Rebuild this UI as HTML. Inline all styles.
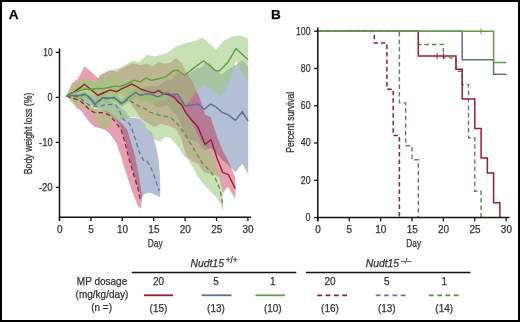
<!DOCTYPE html>
<html><head><meta charset="utf-8"><style>
html,body{margin:0;padding:0;background:#fff;}
body{width:520px;height:322px;overflow:hidden;}
svg{display:block;font-family:"Liberation Sans",sans-serif;will-change:transform;}
text{stroke:#3a3a3a;stroke-width:0.25px;paint-order:stroke;}
</style></head><body>
<svg width="520" height="322" viewBox="0 0 520 322">
<rect x="0" y="0" width="520" height="322" fill="#fff"/>
<polygon points="66.3,96.0 72.0,94.3 80.0,92.5 80.6,92.5 84.4,90.7 89.0,93.8 95.0,100.7 102.7,94.0 109.4,94.6 114.2,93.5 121.9,99.7 127.7,94.2 130.0,92.5 135.4,87.3 140.2,89.3 146.1,86.5 150.0,86.0 157.3,86.6 161.0,84.3 166.6,79.6 170.0,80.1 172.0,78.9 177.5,72.0 181.2,74.1 185.0,75.5 185.5,75.9 190.0,72.4 198.0,67.7 200.0,68.6 204.2,64.7 205.0,62.6 210.6,63.7 215.0,70.3 215.4,70.4 216.0,70.7 222.0,74.2 222.1,74.2 227.0,70.1 227.9,69.3 230.0,68.2 234.6,65.2 235.0,64.9 235.4,65.4 240.0,61.7 242.0,60.2 242.3,59.7 248.2,66.1 248.2,174.0 242.3,164.1 242.0,164.4 240.0,166.6 235.4,172.2 235.0,171.9 234.6,171.6 230.0,166.7 227.9,164.5 227.0,163.8 222.1,160.0 222.0,159.9 216.0,152.5 215.4,151.8 215.0,151.5 210.6,147.9 205.0,150.6 204.2,150.9 200.0,145.0 198.0,142.2 190.0,139.4 185.5,136.6 185.0,135.5 181.2,125.9 177.5,116.0 172.0,111.1 170.0,108.1 166.6,105.6 161.0,106.9 157.3,107.0 150.0,102.0 146.1,100.9 140.2,101.3 135.4,97.5 130.0,100.5 127.7,102.2 121.9,107.3 114.2,100.9 109.4,101.8 102.7,101.0 95.0,107.3 89.0,100.2 84.4,96.9 80.6,98.5 80.0,98.5 72.0,96.7 66.3,96.0" fill="rgba(85,112,160,0.45)"/>
<polygon points="66.3,96.0 75.0,94.5 85.0,93.0 95.0,96.0 105.0,99.0 112.0,102.0 120.0,107.0 126.0,112.0 130.0,118.0 135.0,118.0 140.5,119.2 143.9,122.5 147.3,129.3 151.7,132.3 155.9,146.3 158.7,160.3 160.0,176.0 160.3,190.0 160.0,197.0 160.0,197.0 152.5,193.6 148.8,192.7 145.0,193.6 141.5,198.3 140.5,196.0 137.9,187.5 133.6,173.0 129.3,158.5 125.0,141.5 121.1,128.0 117.5,123.0 114.0,118.5 110.0,115.0 104.0,111.0 95.0,107.0 85.0,101.0 75.0,98.0 66.3,96.0" fill="rgba(85,112,160,0.45)"/>
<polygon points="66.3,96.0 72.0,83.0 74.4,81.5 78.0,78.7 80.0,75.0 80.6,73.9 84.4,66.3 91.0,71.7 98.0,78.0 100.0,75.0 103.0,73.4 110.4,70.1 116.7,71.7 117.0,71.5 120.0,69.6 122.0,68.3 126.0,66.4 127.0,65.9 128.0,65.3 131.6,63.2 133.0,63.7 136.0,63.9 140.0,65.0 140.5,64.9 141.7,64.9 145.0,63.7 146.0,63.3 147.3,63.9 151.5,66.0 153.5,65.9 157.4,62.7 158.5,61.8 159.0,61.9 162.0,63.0 163.5,63.5 169.7,63.1 170.0,63.2 173.0,60.4 174.7,58.8 177.0,58.5 177.4,59.1 178.4,60.4 181.6,62.7 181.7,62.9 184.0,67.4 185.0,69.7 185.5,70.9 187.2,73.6 191.7,80.8 193.0,82.6 194.8,87.2 197.0,92.9 198.0,94.0 201.0,101.5 201.3,102.4 205.0,114.4 205.6,114.7 209.0,116.5 211.0,117.5 212.0,121.8 212.2,122.4 216.0,133.6 217.0,136.5 219.3,142.2 222.6,150.3 223.0,151.1 226.7,158.0 228.4,161.2 235.3,177.6 235.3,199.1 228.4,187.6 226.7,187.5 223.0,193.5 222.6,192.4 219.3,176.9 217.0,175.9 216.0,175.0 212.2,174.4 212.0,174.0 211.0,171.6 209.0,174.3 205.6,171.9 205.0,173.2 201.3,169.2 201.0,168.7 198.0,163.5 197.0,163.2 194.8,162.5 193.0,161.6 191.7,160.8 187.2,157.5 185.5,153.1 185.0,151.4 184.0,147.9 181.7,139.9 181.6,139.6 178.4,133.6 177.4,131.1 177.0,130.6 174.7,128.1 173.0,127.7 170.0,126.2 169.7,126.0 163.5,124.7 162.0,123.8 159.0,124.5 158.5,124.6 157.4,126.1 153.5,126.8 151.5,125.6 147.3,122.9 146.0,122.1 145.0,121.5 141.7,119.0 140.5,117.8 140.0,117.0 136.0,111.0 133.0,107.0 131.6,105.1 128.0,99.8 127.0,98.3 126.0,97.7 122.0,94.8 120.0,93.7 117.0,95.4 116.7,95.6 110.4,93.7 103.0,96.6 100.0,98.0 98.0,99.0 91.0,92.8 84.4,87.4 80.6,90.4 80.0,90.8 78.0,91.8 74.4,93.5 72.0,94.2 66.3,96.0" fill="rgba(190,20,55,0.40)"/>
<polygon points="66.3,96.0 72.0,96.5 80.0,98.0 86.0,102.0 90.0,106.5 95.0,109.0 101.3,110.0 106.0,110.5 110.0,112.5 114.0,116.0 118.0,120.0 122.5,124.0 127.3,130.0 131.0,142.4 134.8,154.8 137.3,167.3 139.5,180.0 141.5,192.0 142.0,200.0 141.0,208.8 141.0,208.8 137.9,205.7 132.1,191.4 126.4,174.3 122.1,160.0 116.4,142.9 110.0,134.0 106.0,130.5 101.0,128.6 94.2,126.8 89.5,122.2 84.8,116.0 81.7,111.3 77.1,108.2 74.0,103.0 70.0,99.0 66.3,96.0" fill="rgba(190,20,55,0.40)"/>
<polygon points="66.3,96.0 72.0,87.0 78.0,83.0 78.1,83.0 84.4,79.8 85.0,79.5 90.6,80.8 96.0,82.0 97.0,80.6 101.0,75.0 103.0,74.1 109.0,71.5 111.7,70.3 114.2,69.4 120.0,67.4 122.6,66.5 126.0,64.5 128.0,63.3 133.5,60.2 134.0,60.4 139.0,62.6 140.0,61.6 145.8,55.8 146.8,54.8 151.5,55.8 154.5,56.4 158.8,55.3 166.0,53.5 167.0,53.3 173.2,48.6 176.3,46.3 177.5,45.9 184.7,43.5 185.6,43.2 192.0,41.6 194.9,40.9 202.4,37.4 203.5,38.4 209.5,43.6 209.9,44.0 216.0,49.3 216.4,49.6 219.2,46.0 222.9,41.2 227.6,38.8 232.2,36.5 236.0,36.0 239.7,35.6 248.1,38.4 248.1,81.2 239.7,68.4 236.0,61.2 232.2,73.4 227.6,86.4 222.9,93.4 219.2,96.0 216.4,92.2 216.0,92.5 209.9,87.7 209.5,87.4 203.5,83.2 202.4,85.8 194.9,93.6 192.0,97.2 185.6,105.8 184.7,106.9 177.5,94.5 176.3,94.5 173.2,93.2 167.0,98.3 166.0,99.7 158.8,102.3 154.5,103.0 151.5,104.8 146.8,102.2 145.8,100.4 140.0,102.4 139.0,100.8 134.0,100.0 133.5,100.7 128.0,103.3 126.0,104.1 122.6,104.6 120.0,105.6 114.2,102.8 111.7,103.2 109.0,103.5 103.0,103.1 101.0,102.1 97.0,96.4 96.0,95.3 90.6,98.2 85.0,98.6 84.4,98.2 78.1,99.2 78.0,99.3 72.0,99.0 66.3,96.0" fill="rgba(155,200,118,0.55)"/>
<polygon points="66.3,96.0 72.0,88.4 75.0,84.3 80.0,81.3 80.6,81.1 84.4,77.8 89.0,79.2 90.0,80.0 95.0,84.8 100.0,79.6 102.7,77.4 109.4,78.2 114.2,77.3 121.9,83.8 127.7,79.2 134.0,82.8 141.8,88.0 142.0,88.0 144.8,88.3 150.2,91.5 152.0,91.8 156.0,93.0 162.0,95.0 164.0,95.3 169.7,94.4 175.0,97.3 176.5,98.5 182.5,106.5 188.0,115.5 190.0,118.8 192.0,122.7 197.3,133.4 202.0,142.5 202.3,143.0 209.9,150.3 214.0,155.6 215.5,159.9 220.2,177.9 223.0,198.6 223.0,214.0 223.0,214.0 223.1,211.4 220.1,203.0 216.5,197.4 210.0,190.9 203.5,184.3 198.0,176.7 192.6,167.0 187.2,158.3 183.9,156.1 178.5,147.4 173.0,140.9 169.8,137.5 165.2,136.7 160.5,141.4 154.3,139.8 149.7,133.6 147.3,129.3 143.9,122.5 140.5,119.2 135.0,117.5 130.0,117.5 126.0,118.0 120.0,121.0 116.0,120.0 113.0,119.0 111.0,126.0 106.0,128.5 100.0,127.5 95.0,121.0 93.0,113.0 90.0,111.0 85.0,107.5 80.0,106.0 77.1,108.4 70.9,102.0 66.3,96.0" fill="rgba(155,200,118,0.55)"/>
<polyline points="66.3,96.0 72.0,98.0 80.1,100.7 85.7,105.7 90.1,110.6 95.0,112.5 101.3,112.5 106.2,113.7 110.0,115.6 113.7,120.0 117.4,124.9 121.1,129.3 125.0,142.9 129.3,160.0 133.6,174.3 137.9,188.6 140.6,201.0" fill="none" stroke="#9a1d38" stroke-width="1.25" stroke-linejoin="miter" stroke-miterlimit="3" stroke-dasharray="4.5,3"/>
<polyline points="66.3,96.0 72.0,96.5 79.2,97.0 84.0,101.3 90.4,105.7 99.0,106.7 105.6,104.6 112.3,104.5 116.2,105.0 118.5,109.0 120.8,113.7 123.0,119.0 129.4,123.7 131.5,128.0 135.0,138.0 139.2,152.0 143.4,160.3 146.2,160.3 150.3,166.0 154.5,177.0 159.3,191.0" fill="none" stroke="#6a7590" stroke-width="1.25" stroke-linejoin="miter" stroke-miterlimit="3" stroke-dasharray="4.5,3"/>
<polyline points="66.3,96.0 72.0,96.3 80.6,96.3 84.4,94.6 89.0,97.8 95.0,104.8 102.7,98.3 109.4,99.0 114.2,98.0 121.9,104.3 127.7,99.5 134.0,103.0 141.8,108.0 144.8,108.6 150.2,112.3 156.0,114.0 162.0,116.0 169.7,117.0 176.5,122.5 182.5,130.5 188.0,139.5 192.0,146.0 197.3,155.0 202.3,163.0 209.9,171.0 215.5,178.7 220.2,189.9 223.0,206.6" fill="none" stroke="#62874c" stroke-width="1.25" stroke-linejoin="miter" stroke-miterlimit="3" stroke-dasharray="4.5,3"/>
<polyline points="66.3,96.0 74.4,91.7 80.6,87.4 84.4,84.3 91.0,89.5 98.0,95.5 103.0,93.0 110.4,89.9 116.7,91.7 122.0,88.5 126.0,86.8 131.6,84.1 136.0,86.0 141.7,89.5 147.3,91.2 153.5,93.1 158.5,90.6 163.5,93.7 169.7,95.0 174.7,97.5 178.4,102.4 181.6,104.7 185.5,112.4 191.7,120.2 198.0,127.0 205.0,144.4 211.0,139.8 217.0,158.0 222.6,172.3 228.4,174.7 235.3,188.6" fill="none" stroke="#9a1d38" stroke-width="1.4" stroke-linejoin="miter" stroke-miterlimit="3"/>
<polyline points="66.3,96.0 72.0,95.5 80.6,95.5 84.4,93.8 89.0,97.0 95.0,104.0 102.7,97.5 109.4,98.2 114.2,97.2 121.9,103.5 127.7,98.2 135.4,92.4 140.2,95.3 146.1,93.7 150.0,94.0 157.3,96.8 161.0,95.6 166.6,92.6 172.0,95.0 177.5,94.0 181.2,100.0 185.5,106.2 198.0,103.9 204.2,109.3 210.6,104.1 215.4,106.5 222.1,112.3 227.9,114.7 235.4,120.2 242.3,111.8 248.2,121.0" fill="none" stroke="#5e7094" stroke-width="1.4" stroke-linejoin="miter" stroke-miterlimit="3"/>
<polyline points="66.3,96.0 72.0,93.0 78.1,91.1 84.4,89.0 90.6,89.5 97.0,88.5 103.0,88.6 109.0,87.5 114.2,86.1 120.0,86.5 126.0,84.3 134.0,80.2 140.0,82.0 145.8,78.1 151.5,80.3 158.8,78.8 166.0,76.6 173.2,70.9 177.5,70.2 184.7,75.2 192.0,69.4 203.5,60.8 209.5,65.5 216.0,70.9 219.2,71.0 227.6,62.6 236.0,48.6 248.1,59.8" fill="none" stroke="#659a48" stroke-width="1.4" stroke-linejoin="miter" stroke-miterlimit="3"/>
<polyline points="317.8,31.2 374.3,31.2 374.3,43.1 386.9,43.1 386.9,89.3 393.2,89.3 393.2,135.5 399.4,135.5 399.4,217.6" fill="none" stroke="#9a1d38" stroke-width="1.5" stroke-linejoin="miter" stroke-miterlimit="3" stroke-dasharray="4.5,3"/>
<polyline points="317.8,31.2 399.4,31.2 399.4,102.9 405.7,102.9 405.7,145.8 412.0,145.8 412.0,159.8 418.3,159.8 418.3,217.6" fill="none" stroke="#6a7590" stroke-width="1.4" stroke-linejoin="miter" stroke-miterlimit="3" stroke-dasharray="4.5,3"/>
<polyline points="317.8,31.2 418.3,31.2 418.3,44.5 443.4,44.5 443.4,57.9 456.0,57.9 456.0,71.2 462.2,71.2 462.2,84.6 468.5,84.6 468.5,137.8 474.8,137.8 474.8,191.2 481.1,191.2 481.1,217.6" fill="none" stroke="#62874c" stroke-width="1.4" stroke-linejoin="miter" stroke-miterlimit="3" stroke-dasharray="4.5,3"/>
<polyline points="317.8,31.2 418.3,31.2 418.3,56.1 456.0,56.1 456.0,69.3 462.2,69.3 462.2,99.1 474.8,99.1 474.8,128.6 481.1,128.6 481.1,158.0 487.4,158.0 487.4,173.0 493.6,173.0 493.6,202.8 499.9,202.8 499.9,217.6" fill="none" stroke="#9a1d38" stroke-width="1.5" stroke-linejoin="miter" stroke-miterlimit="3"/>
<polyline points="317.8,31.2 462.2,31.2 462.2,59.8 493.6,59.8 493.6,74.3 506.2,74.3" fill="none" stroke="#5e7094" stroke-width="1.5" stroke-linejoin="miter" stroke-miterlimit="3"/>
<polyline points="317.8,31.2 493.6,31.2 493.6,62.4 506.2,62.4" fill="none" stroke="#659a48" stroke-width="1.5" stroke-linejoin="miter" stroke-miterlimit="3"/>
<line x1="437.1" y1="53.1" x2="437.1" y2="59.1" stroke="#9a1d38" stroke-width="1"/>
<line x1="443.4" y1="53.1" x2="443.4" y2="59.1" stroke="#9a1d38" stroke-width="1"/>
<line x1="481.1" y1="28.2" x2="481.1" y2="34.2" stroke="#659a48" stroke-width="1"/>
<path d="M59.5,48.5 V220.5 M59,217.2 H251" stroke="#111" stroke-width="1.5" fill="none"/>
<path d="M55.8,52.4 H59.5" stroke="#111" stroke-width="1.3"/>
<path d="M55.8,97.4 H59.5" stroke="#111" stroke-width="1.3"/>
<path d="M55.8,142.4 H59.5" stroke="#111" stroke-width="1.3"/>
<path d="M55.8,187.4 H59.5" stroke="#111" stroke-width="1.3"/>
<path d="M59.5,217.2 V221" stroke="#111" stroke-width="1.3"/>
<path d="M90.9,217.2 V221" stroke="#111" stroke-width="1.3"/>
<path d="M122.3,217.2 V221" stroke="#111" stroke-width="1.3"/>
<path d="M153.7,217.2 V221" stroke="#111" stroke-width="1.3"/>
<path d="M185.1,217.2 V221" stroke="#111" stroke-width="1.3"/>
<path d="M216.5,217.2 V221" stroke="#111" stroke-width="1.3"/>
<path d="M247.9,217.2 V221" stroke="#111" stroke-width="1.3"/>
<path d="M317.8,27.5 V221.3 M317.3,217.6 H509.5" stroke="#111" stroke-width="1.5" fill="none"/>
<path d="M314.1,217.6 H317.8" stroke="#111" stroke-width="1.3"/>
<path d="M314.1,180.3 H317.8" stroke="#111" stroke-width="1.3"/>
<path d="M314.1,143.0 H317.8" stroke="#111" stroke-width="1.3"/>
<path d="M314.1,105.8 H317.8" stroke="#111" stroke-width="1.3"/>
<path d="M314.1,68.5 H317.8" stroke="#111" stroke-width="1.3"/>
<path d="M314.1,31.2 H317.8" stroke="#111" stroke-width="1.3"/>
<path d="M317.8,217.6 V221.3" stroke="#111" stroke-width="1.3"/>
<path d="M349.2,217.6 V221.3" stroke="#111" stroke-width="1.3"/>
<path d="M380.6,217.6 V221.3" stroke="#111" stroke-width="1.3"/>
<path d="M412.0,217.6 V221.3" stroke="#111" stroke-width="1.3"/>
<path d="M443.4,217.6 V221.3" stroke="#111" stroke-width="1.3"/>
<path d="M474.8,217.6 V221.3" stroke="#111" stroke-width="1.3"/>
<path d="M506.2,217.6 V221.3" stroke="#111" stroke-width="1.3"/>
<text x="8.8" y="18.7" font-size="13.6" font-weight="bold" fill="#000">A</text>
<text x="271" y="18.7" font-size="13.6" font-weight="bold" fill="#000">B</text>
<text x="52.6" y="56.0" text-anchor="end" font-size="10" fill="#333" textLength="9.3" lengthAdjust="spacingAndGlyphs">10</text>
<text x="52.6" y="101.0" text-anchor="end" font-size="10" fill="#333" textLength="5" lengthAdjust="spacingAndGlyphs">0</text>
<text x="52.6" y="146.0" text-anchor="end" font-size="10" fill="#333" textLength="13.5" lengthAdjust="spacingAndGlyphs">-10</text>
<text x="52.6" y="191.0" text-anchor="end" font-size="10" fill="#333" textLength="13.8" lengthAdjust="spacingAndGlyphs">-20</text>
<text x="59.7" y="233" text-anchor="middle" font-size="10" fill="#333" >0</text>
<text x="91.10000000000001" y="233" text-anchor="middle" font-size="10" fill="#333" >5</text>
<text x="122.50000000000001" y="233" text-anchor="middle" font-size="10" fill="#333" >10</text>
<text x="153.89999999999998" y="233" text-anchor="middle" font-size="10" fill="#333" >15</text>
<text x="185.3" y="233" text-anchor="middle" font-size="10" fill="#333" >20</text>
<text x="216.7" y="233" text-anchor="middle" font-size="10" fill="#333" >25</text>
<text x="248.1" y="233" text-anchor="middle" font-size="10" fill="#333" >30</text>
<text x="155.2" y="247.3" text-anchor="middle" font-size="10" fill="#333" textLength="14.8" lengthAdjust="spacingAndGlyphs">Day</text>
<text transform="translate(32.4,133.4) rotate(-90)" text-anchor="middle" font-size="10" fill="#333" textLength="81.7" lengthAdjust="spacingAndGlyphs">Body weight loss (%)</text>
<text x="310.6" y="221.0" text-anchor="end" font-size="10" fill="#333" textLength="5" lengthAdjust="spacingAndGlyphs">0</text>
<text x="310.6" y="183.72" text-anchor="end" font-size="10" fill="#333" textLength="9.8" lengthAdjust="spacingAndGlyphs">20</text>
<text x="310.6" y="146.44" text-anchor="end" font-size="10" fill="#333" textLength="9.8" lengthAdjust="spacingAndGlyphs">40</text>
<text x="310.6" y="109.16" text-anchor="end" font-size="10" fill="#333" textLength="9.8" lengthAdjust="spacingAndGlyphs">60</text>
<text x="310.6" y="71.88" text-anchor="end" font-size="10" fill="#333" textLength="9.8" lengthAdjust="spacingAndGlyphs">80</text>
<text x="310.6" y="34.59999999999999" text-anchor="end" font-size="10" fill="#333" textLength="14.6" lengthAdjust="spacingAndGlyphs">100</text>
<text x="318.0" y="233" text-anchor="middle" font-size="10" fill="#333" >0</text>
<text x="349.4" y="233" text-anchor="middle" font-size="10" fill="#333" >5</text>
<text x="380.8" y="233" text-anchor="middle" font-size="10" fill="#333" >10</text>
<text x="412.2" y="233" text-anchor="middle" font-size="10" fill="#333" >15</text>
<text x="443.6" y="233" text-anchor="middle" font-size="10" fill="#333" >20</text>
<text x="475.0" y="233" text-anchor="middle" font-size="10" fill="#333" >25</text>
<text x="506.40000000000003" y="233" text-anchor="middle" font-size="10" fill="#333" >30</text>
<text x="413.7" y="247.3" text-anchor="middle" font-size="10" fill="#333" textLength="14.8" lengthAdjust="spacingAndGlyphs">Day</text>
<text transform="translate(293.7,122.3) rotate(-90)" text-anchor="middle" font-size="10" fill="#333" textLength="61.1" lengthAdjust="spacingAndGlyphs">Percent survival</text>
<path d="M131.7,272.5 H296.3 M305.9,272.5 H470.4" stroke="#111" stroke-width="1.5"/>
<text x="214" y="266.8" text-anchor="middle" font-size="10.4" font-style="italic" fill="#333">Nudt15<tspan font-size="8.2" dy="-3.4" dx="1.8" font-style="normal">+/+</tspan></text>
<text x="388.5" y="266.8" text-anchor="middle" font-size="10.4" font-style="italic" fill="#333">Nudt15<tspan font-size="7.2" dy="-3.6" dx="2.2" font-style="normal">&#8211;/&#8211;</tspan></text>
<text x="102" y="284.6" text-anchor="middle" font-size="10" fill="#333" >MP dosage</text>
<text x="102" y="297.5" text-anchor="middle" font-size="10" fill="#333" >(mg/kg/day)</text>
<text x="101.6" y="311" text-anchor="middle" font-size="10" fill="#333" >(n =)</text>
<text x="158.5" y="284.6" text-anchor="middle" font-size="10" fill="#333" >20</text>
<text x="158.5" y="311.8" text-anchor="middle" font-size="10" fill="#333" >(15)</text>
<path d="M144,295.3 H173.1" stroke="#9a1d38" stroke-width="1.8"/>
<text x="216" y="284.6" text-anchor="middle" font-size="10" fill="#333" >5</text>
<text x="216" y="311.8" text-anchor="middle" font-size="10" fill="#333" >(13)</text>
<path d="M201.7,295.3 H231.5" stroke="#5e7094" stroke-width="1.8"/>
<text x="272.8" y="284.6" text-anchor="middle" font-size="10" fill="#333" >1</text>
<text x="272.8" y="311.8" text-anchor="middle" font-size="10" fill="#333" >(10)</text>
<path d="M255.6,295.3 H285.1" stroke="#659a48" stroke-width="1.8"/>
<text x="330" y="284.6" text-anchor="middle" font-size="10" fill="#333" >20</text>
<text x="330" y="311.8" text-anchor="middle" font-size="10" fill="#333" >(16)</text>
<path d="M317.3,295.3 H347.1" stroke="#9a1d38" stroke-width="1.8" stroke-dasharray="4.8,3.5"/>
<text x="386.8" y="284.6" text-anchor="middle" font-size="10" fill="#333" >5</text>
<text x="386.8" y="311.8" text-anchor="middle" font-size="10" fill="#333" >(13)</text>
<path d="M375.8,295.3 H405.6" stroke="#6a7590" stroke-width="1.8" stroke-dasharray="4.8,3.5"/>
<text x="444.2" y="284.6" text-anchor="middle" font-size="10" fill="#333" >1</text>
<text x="444.2" y="311.8" text-anchor="middle" font-size="10" fill="#333" >(14)</text>
<path d="M428.9,295.3 H459.6" stroke="#62874c" stroke-width="1.8" stroke-dasharray="4.8,3.5"/>
<rect x="1" y="1" width="518" height="320" fill="none" stroke="#000" stroke-width="2"/>
</svg>
</body></html>
